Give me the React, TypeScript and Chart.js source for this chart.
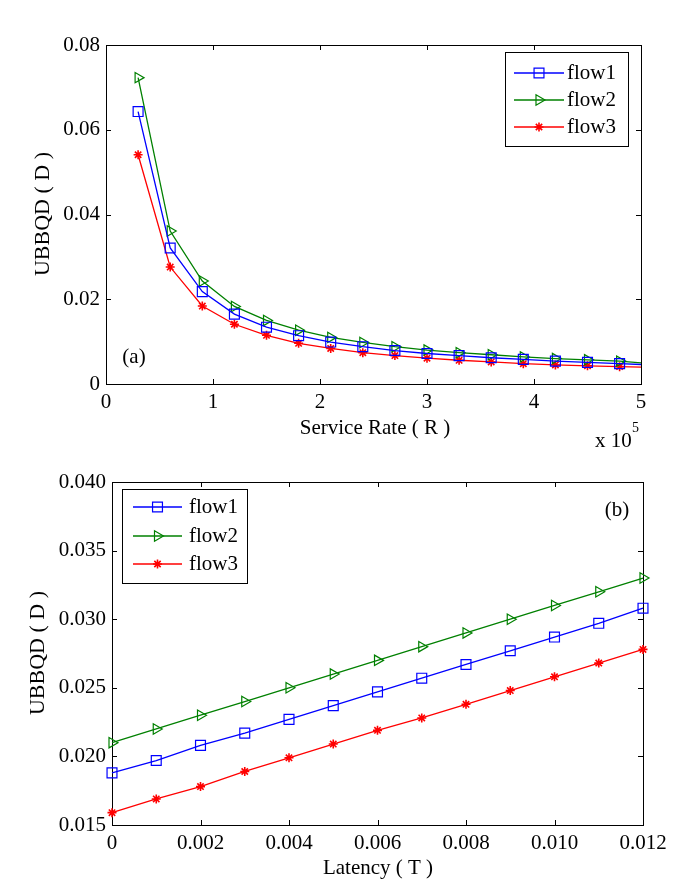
import React, { useEffect, useRef } from 'react';
import { Chart, registerables } from 'chart.js';
import { drawPoint } from 'chart.js/helpers';

Chart.register(...registerables);

// ---------- Data: panel (a) ----------
const serviceRate = [0.3, 0.6, 0.9, 1.2, 1.5, 1.8, 2.1, 2.4, 2.7, 3.0, 3.3, 3.6, 3.9, 4.2, 4.5, 4.8, 5.0];
const flow1A = [0.0643, 0.0321, 0.0218, 0.0165, 0.0134, 0.0114, 0.0099, 0.0088, 0.0079, 0.0072, 0.0067, 0.0062, 0.0058, 0.0054, 0.0051, 0.0048, 0.0046];
const flow2A = [0.0723, 0.0361, 0.0243, 0.0183, 0.0150, 0.0127, 0.0110, 0.0098, 0.0088, 0.0080, 0.0074, 0.0069, 0.0064, 0.0060, 0.0057, 0.0054, 0.0050];
const flow3A = [0.0541, 0.0276, 0.0184, 0.0141, 0.0115, 0.0096, 0.0084, 0.0074, 0.0067, 0.0061, 0.0056, 0.0052, 0.0048, 0.0045, 0.0043, 0.0041, 0.0040];
const xTicksA = [0, 1, 2, 3, 4, 5];
const xTickLabelsA = ['0', '1', '2', '3', '4', '5'];
const yTicksA = [0, 0.02, 0.04, 0.06, 0.08];
const yTickLabelsA = ['0', '0.02', '0.04', '0.06', '0.08'];

// ---------- Data: panel (b) ----------
const latency = [0, 0.001, 0.002, 0.003, 0.004, 0.005, 0.006, 0.007, 0.008, 0.009, 0.010, 0.011, 0.012];
const flow1B = [0.0188, 0.0197, 0.0208, 0.0217, 0.0227, 0.0237, 0.0247, 0.0257, 0.0267, 0.0277, 0.0287, 0.0297, 0.0308];
const flow2B = [0.0210, 0.0220, 0.0230, 0.0240, 0.0250, 0.0260, 0.0270, 0.0280, 0.0290, 0.0300, 0.0310, 0.0320, 0.0330];
const flow3B = [0.0159, 0.0169, 0.0178, 0.0189, 0.0199, 0.0209, 0.0219, 0.0228, 0.0238, 0.0248, 0.0258, 0.0268, 0.0278];
const xTicksB = [0, 0.002, 0.004, 0.006, 0.008, 0.010, 0.012];
const xTickLabelsB = ['0', '0.002', '0.004', '0.006', '0.008', '0.010', '0.012'];
const yTicksB = [0.015, 0.020, 0.025, 0.030, 0.035, 0.040];
const yTickLabelsB = ['0.015', '0.020', '0.025', '0.030', '0.035', '0.040'];

const seriesNames = ['flow1', 'flow2', 'flow3'];

const FONT = '"Liberation Serif", "Times New Roman", serif';
const W = 685;

const styles = [
  { color: '#0000ff', pointStyle: 'rect', radius: 7, rotation: 0, bw: 1.2 },
  { color: '#008000', pointStyle: 'triangle', radius: 6, rotation: 90, bw: 1.2 },
  { color: '#ff0000', pointStyle: 'star', radius: 4.5, rotation: 0, bw: 1.6 },
];

type Panel = {
  top: number;
  height: number;
  area: { left: number; right: number; top: number; bottom: number };
  x: number[];
  series: number[][];
  markerCount: number;
  xMin: number; xMax: number; yMin: number; yMax: number;
  xTicks: number[]; xTickLabels: string[];
  yTicks: number[]; yTickLabels: string[];
  xTitle: { text: string; x: number; y: number };
  yTitle: { text: string; x: number; y: number };
  tag: { text: string; x: number; y: number };
  exponent: boolean;
  legend: { left: number; top: number; right: number; bottom: number; rows: number[]; lineX0: number; lineX1: number; textX: number };
};

const panelA: Panel = {
  top: 0,
  height: 450,
  area: { left: 106, right: 641, top: 45, bottom: 384 },
  x: serviceRate,
  series: [flow1A, flow2A, flow3A],
  markerCount: 16,
  xMin: 0, xMax: 5, yMin: 0, yMax: 0.08,
  xTicks: xTicksA, xTickLabels: xTickLabelsA,
  yTicks: yTicksA, yTickLabels: yTickLabelsA,
  xTitle: { text: 'Service Rate ( R )', x: 375, y: 428 },
  yTitle: { text: 'UBBQD ( D )', x: 43, y: 214 },
  tag: { text: '(a)', x: 134, y: 357 },
  exponent: true,
  legend: { left: 505, top: 52, right: 628, bottom: 146, rows: [73, 100, 127], lineX0: 514, lineX1: 564, textX: 567 },
};

const panelB: Panel = {
  top: 450,
  height: 442,
  area: { left: 112, right: 643, top: 482, bottom: 825 },
  x: latency,
  series: [flow1B, flow2B, flow3B],
  markerCount: 13,
  xMin: 0, xMax: 0.012, yMin: 0.015, yMax: 0.040,
  xTicks: xTicksB, xTickLabels: xTickLabelsB,
  yTicks: yTicksB, yTickLabels: yTickLabelsB,
  xTitle: { text: 'Latency ( T )', x: 378, y: 868 },
  yTitle: { text: 'UBBQD ( D )', x: 38, y: 653 },
  tag: { text: '(b)', x: 617, y: 510 },
  exponent: false,
  legend: { left: 122, top: 489, right: 247, bottom: 583, rows: [507, 536, 564], lineX0: 133, lineX1: 182, textX: 189 },
};

function framePlugin(p: Panel) {
  return {
    id: 'frame' + p.top,
    beforeDatasetsDraw(chart: any) {
      const { ctx, chartArea } = chart;
      const { left, right, top, bottom } = chartArea;
      const xs = chart.scales.x;
      const ys = chart.scales.y;
      ctx.save();
      ctx.strokeStyle = '#000';
      ctx.lineWidth = 1;
      ctx.strokeRect(Math.round(left) + 0.5, Math.round(top) + 0.5, Math.round(right - left), Math.round(bottom - top));
      const L = 5;
      ctx.beginPath();
      p.xTicks.forEach((v) => {
        const px = Math.round(xs.getPixelForValue(v)) + 0.5;
        ctx.moveTo(px, bottom); ctx.lineTo(px, bottom - L);
        ctx.moveTo(px, top); ctx.lineTo(px, top + L);
      });
      p.yTicks.forEach((v) => {
        const py = Math.round(ys.getPixelForValue(v)) + 0.5;
        ctx.moveTo(left, py); ctx.lineTo(left + L, py);
        ctx.moveTo(right, py); ctx.lineTo(right - L, py);
      });
      ctx.stroke();
      ctx.restore();
    },
    afterDraw(chart: any) {
      const { ctx } = chart;
      const oy = p.top;
      ctx.save();
      ctx.fillStyle = '#000';
      ctx.font = `21px ${FONT}`;
      ctx.textAlign = 'center';
      ctx.textBaseline = 'middle';
      // x title
      ctx.fillText(p.xTitle.text, p.xTitle.x, p.xTitle.y - oy);
      // panel tag
      ctx.fillText(p.tag.text, p.tag.x, p.tag.y - oy);
      // y title
      ctx.save();
      ctx.font = `22px ${FONT}`;
      ctx.translate(p.yTitle.x, p.yTitle.y - oy);
      ctx.rotate(-Math.PI / 2);
      ctx.fillText(p.yTitle.text, 0, 0);
      ctx.restore();
      // exponent
      if (p.exponent) {
        ctx.textAlign = 'left';
        ctx.fillText('x 10', 595, 441 - oy);
        ctx.font = `14px ${FONT}`;
        ctx.fillText('5', 632, 428 - oy);
      }
      // legend
      const lg = p.legend;
      ctx.fillStyle = '#fff';
      ctx.fillRect(lg.left, lg.top - oy, lg.right - lg.left, lg.bottom - lg.top);
      ctx.strokeStyle = '#000';
      ctx.lineWidth = 1;
      ctx.strokeRect(lg.left + 0.5, lg.top - oy + 0.5, lg.right - lg.left, lg.bottom - lg.top);
      seriesNames.forEach((name, i) => {
        const st = styles[i];
        const y = lg.rows[i] - oy;
        ctx.strokeStyle = st.color;
        ctx.lineWidth = 1.3;
        ctx.beginPath();
        ctx.moveTo(lg.lineX0, y);
        ctx.lineTo(lg.lineX1, y);
        ctx.stroke();
        ctx.lineWidth = st.bw;
        ctx.fillStyle = 'rgba(0,0,0,0)';
        drawPoint(ctx, { pointStyle: st.pointStyle as any, rotation: st.rotation, radius: st.radius, borderWidth: st.bw }, (lg.lineX0 + lg.lineX1) / 2, y);
        ctx.fillStyle = '#000';
        ctx.font = `21px ${FONT}`;
        ctx.textAlign = 'left';
        ctx.textBaseline = 'middle';
        ctx.fillText(name, lg.textX, y);
      });
      ctx.restore();
    },
  };
}

function makeChart(canvas: HTMLCanvasElement, p: Panel) {
  const tickFont = { family: FONT, size: 21 };
  return new Chart(canvas, {
    type: 'line',
    data: {
      datasets: p.series.map((ys, i) => ({
        label: seriesNames[i],
        data: p.x.map((x, j) => ({ x, y: ys[j] })),
        borderColor: styles[i].color,
        borderWidth: 1.3,
        pointStyle: styles[i].pointStyle as any,
        pointRotation: styles[i].rotation,
        pointRadius: p.x.map((_, j) => (j < p.markerCount ? styles[i].radius : 0)),
        pointHoverRadius: 0,
        pointBorderColor: styles[i].color,
        pointBackgroundColor: 'rgba(0,0,0,0)',
        pointBorderWidth: styles[i].bw,
        tension: 0,
        fill: false,
        clip: false as any,
      })),
    },
    options: {
      animation: false,
      responsive: false,
      devicePixelRatio: 1,
      events: [],
      layout: {
        padding: { left: 0, top: p.area.top - p.top, right: W - p.area.right, bottom: 0 },
      },
      plugins: { legend: { display: false }, tooltip: { enabled: false } },
      scales: {
        x: {
          type: 'linear',
          min: p.xMin,
          max: p.xMax,
          afterBuildTicks: (s: any) => { s.ticks = p.xTicks.map((v) => ({ value: v })); },
          afterFit: (s: any) => { s.height = p.top + p.height - p.area.bottom; },
          ticks: {
            callback: (_v: any, i: number) => p.xTickLabels[i],
            font: tickFont,
            color: '#000',
            padding: 6,
            maxRotation: 0,
            autoSkip: false,
          },
          grid: { display: false, drawTicks: false },
          border: { display: false },
        },
        y: {
          type: 'linear',
          min: p.yMin,
          max: p.yMax,
          afterBuildTicks: (s: any) => { s.ticks = p.yTicks.map((v) => ({ value: v })); },
          afterFit: (s: any) => { s.width = p.area.left; },
          ticks: {
            callback: (_v: any, i: number) => p.yTickLabels[i],
            font: tickFont,
            color: '#000',
            padding: 6,
            autoSkip: false,
          },
          grid: { display: false, drawTicks: false },
          border: { display: false },
        },
      },
    } as any,
    plugins: [framePlugin(p) as any],
  });
}

function PanelCanvas({ p }: { p: Panel }) {
  const ref = useRef<HTMLCanvasElement | null>(null);
  useEffect(() => {
    if (!ref.current) return;
    const chart = makeChart(ref.current, p);
    return () => chart.destroy();
  }, [p]);
  return (
    <canvas
      ref={ref}
      width={W}
      height={p.height}
      style={{ position: 'absolute', left: 0, top: p.top, width: W, height: p.height, display: 'block' }}
    />
  );
}

export default function App() {
  return (
    <div style={{ position: 'absolute', left: 0, top: 0, width: W, height: 892, background: '#fff' }}>
      <PanelCanvas p={panelA} />
      <PanelCanvas p={panelB} />
    </div>
  );
}
